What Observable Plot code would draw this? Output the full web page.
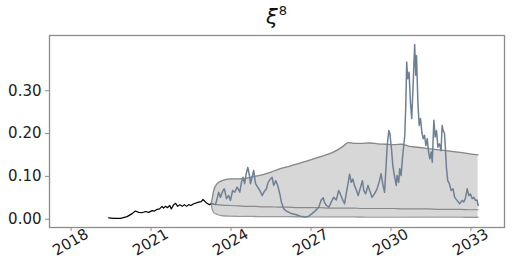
<!DOCTYPE html>
<html>
<head>
<meta charset="utf-8">
<script src="https://cdn.jsdelivr.net/npm/d3@7"></script>
<script src="https://cdn.jsdelivr.net/npm/@observablehq/plot@0.6"></script>
<style>
  body { margin: 0; background: white; }
  #wrap { width: 514px; }
  #title { box-sizing: border-box; width: 514px; height: 30px; padding-left: 49px; padding-right: 10px; padding-top: 5px;
           text-align: center; font-family: "DejaVu Sans", sans-serif; font-size: 21px; line-height: 25px; color: #111; }
  #title i { font-style: italic; }
  #title sup { font-size: 13px; font-style: normal; vertical-align: 0; position: relative; top: -9px; margin-left: 1px; }
</style>
</head>
<body>
<div id="wrap">
  <div id="title"><i>ξ</i><sup>8</sup></div>
  <div id="chart"></div>
</div>
<script>
// ---- data ----
const histYears = [2019.41, 2019.60, 2019.85, 2020.10, 2020.29, 2020.41, 2020.54, 2020.66, 2020.79, 2020.91,
  2021.04, 2021.13, 2021.23, 2021.32, 2021.41, 2021.47, 2021.54, 2021.62, 2021.70, 2021.76, 2021.85, 2021.92,
  2022.00, 2022.08, 2022.17, 2022.25, 2022.33, 2022.41, 2022.50, 2022.60, 2022.70, 2022.79, 2022.88, 2022.95,
  2023.01, 2023.08, 2023.13, 2023.19, 2023.26];
const histValues = [0.003, 0.002, 0.002, 0.006, 0.013, 0.019, 0.016, 0.015, 0.018, 0.016,
  0.020, 0.019, 0.023, 0.024, 0.030, 0.026, 0.030, 0.027, 0.032, 0.024, 0.034, 0.037,
  0.030, 0.034, 0.030, 0.034, 0.030, 0.034, 0.032, 0.036, 0.038, 0.040, 0.041, 0.046,
  0.042, 0.038, 0.036, 0.034, 0.036];

const pathYears = [2023.26, 2023.42, 2023.54, 2023.60, 2023.70, 2023.75, 2023.83, 2023.91, 2023.98, 2024.06,
  2024.14, 2024.23, 2024.33, 2024.39, 2024.45, 2024.51, 2024.57, 2024.63, 2024.69, 2024.73, 2024.79, 2024.85,
  2024.92, 2025.00, 2025.08, 2025.17, 2025.23, 2025.33, 2025.39, 2025.48, 2025.54, 2025.60, 2025.68, 2025.75,
  2025.83, 2025.89, 2025.98, 2026.08, 2026.23, 2026.42, 2026.60, 2026.79, 2026.92,
  2027.04, 2027.17, 2027.29, 2027.38, 2027.46, 2027.50, 2027.58, 2027.67, 2027.76, 2027.85, 2027.95, 2028.04,
  2028.10, 2028.17, 2028.26, 2028.32, 2028.39, 2028.45, 2028.51, 2028.57, 2028.63, 2028.71, 2028.77, 2028.86,
  2028.93, 2028.98, 2029.05, 2029.14, 2029.20, 2029.29, 2029.38, 2029.48, 2029.57, 2029.63, 2029.69, 2029.76,
  2029.79, 2029.86, 2029.92, 2029.96, 2030.02, 2030.07, 2030.13, 2030.20, 2030.23, 2030.29, 2030.33, 2030.38,
  2030.43, 2030.48, 2030.52, 2030.56, 2030.59, 2030.63, 2030.68, 2030.73, 2030.78, 2030.83, 2030.89, 2030.93,
  2030.96, 2031.01, 2031.06, 2031.11, 2031.16, 2031.21, 2031.26, 2031.31, 2031.36, 2031.41, 2031.46, 2031.51,
  2031.55, 2031.61, 2031.66, 2031.71, 2031.76, 2031.82, 2031.88, 2031.92, 2031.96, 2032.01, 2032.04, 2032.08,
  2032.13, 2032.19, 2032.26, 2032.33, 2032.39, 2032.48, 2032.58, 2032.67, 2032.73, 2032.79, 2032.86, 2032.92,
  2032.98, 2033.05, 2033.11, 2033.17, 2033.23, 2033.27];
const pathValues = [0.037, 0.034, 0.063, 0.051, 0.067, 0.071, 0.048, 0.055, 0.044, 0.067,
  0.063, 0.075, 0.063, 0.086, 0.098, 0.083, 0.106, 0.121, 0.102, 0.083, 0.098, 0.114,
  0.083, 0.075, 0.067, 0.055, 0.063, 0.071, 0.086, 0.094, 0.098, 0.079, 0.090, 0.079,
  0.059, 0.040, 0.024, 0.019, 0.014, 0.011, 0.007, 0.005, 0.007,
  0.013, 0.020, 0.028, 0.044, 0.050, 0.040, 0.032, 0.028, 0.040, 0.051, 0.045, 0.067,
  0.059, 0.048, 0.036, 0.059, 0.083, 0.105, 0.086, 0.094, 0.079, 0.067, 0.055, 0.075,
  0.090, 0.067, 0.059, 0.079, 0.067, 0.051, 0.059, 0.071, 0.090, 0.106, 0.083, 0.063,
  0.095, 0.172, 0.207, 0.200, 0.164, 0.125, 0.102, 0.079, 0.102, 0.086, 0.118, 0.102,
  0.141, 0.172, 0.196, 0.273, 0.367, 0.328, 0.343, 0.273, 0.235, 0.312, 0.408, 0.336,
  0.382, 0.273, 0.219, 0.235, 0.203, 0.188, 0.196, 0.172, 0.188, 0.157, 0.141, 0.157,
  0.133, 0.231, 0.192, 0.207, 0.168, 0.176, 0.160, 0.219, 0.207, 0.200, 0.168, 0.121,
  0.090, 0.083, 0.067, 0.071, 0.051, 0.044, 0.036, 0.044, 0.040, 0.048, 0.071, 0.055,
  0.059, 0.048, 0.051, 0.044, 0.045, 0.032];

const bandYears = [2023.26, 2023.29, 2023.35, 2023.48, 2023.67, 2023.98, 2024.3, 2024.6, 2024.9, 2025.2,
  2025.5, 2025.8, 2026.1, 2026.5, 2026.9, 2027.3, 2027.7, 2028.0, 2028.2, 2028.4, 2028.6, 2028.9, 2029.2,
  2029.5, 2029.8, 2030.1, 2030.4, 2030.7, 2031.0, 2031.4, 2031.8, 2032.2, 2032.6, 2033.0, 2033.27];
const bandUpper = [0.037, 0.046, 0.067, 0.083, 0.090, 0.094, 0.094, 0.096, 0.100, 0.104,
  0.110, 0.117, 0.122, 0.129, 0.137, 0.145, 0.153, 0.162, 0.170, 0.179, 0.177, 0.177, 0.178,
  0.176, 0.175, 0.174, 0.175, 0.170, 0.168, 0.165, 0.162, 0.159, 0.156, 0.152, 0.150];
const bandLower = [0.035, 0.024, 0.016, 0.011, 0.008, 0.007, 0.0068, 0.0065, 0.0063, 0.006,
  0.006, 0.006, 0.0058, 0.0057, 0.0056, 0.0055, 0.0054, 0.0053, 0.0053, 0.0052, 0.0052, 0.0051, 0.005,
  0.005, 0.005, 0.0049, 0.0049, 0.0048, 0.0048, 0.0047, 0.0047, 0.0046, 0.0046, 0.0045, 0.0045];
const bandMedian = [0.036, 0.036, 0.035, 0.034, 0.033, 0.032, 0.031, 0.030, 0.030, 0.029,
  0.029, 0.028, 0.028, 0.027, 0.027, 0.027, 0.026, 0.026, 0.026, 0.026, 0.026, 0.025, 0.025,
  0.025, 0.025, 0.025, 0.024, 0.024, 0.024, 0.024, 0.023, 0.023, 0.023, 0.022, 0.022];

const xTicks = [2018, 2021, 2024, 2027, 2030, 2033];
const xTickLabels = ["2018", "2021", "2024", "2027", "2030", "2033"];
const yTicks = [0.0, 0.1, 0.2, 0.3];
const yTickLabels = ["0.00", "0.10", "0.20", "0.30"];

// ---- tables built from the arrays ----
const hist = histYears.map((x, i) => ({x, y: histValues[i]}));
const path = pathYears.map((x, i) => ({x, y: pathValues[i]}));
const band = bandYears.map((x, i) => ({x, hi: bandUpper[i], lo: bandLower[i], med: bandMedian[i]}));
const xt = xTicks.map((x, i) => ({x, label: xTickLabels[i]}));
const yt = yTicks.map((y, i) => ({y, label: yTickLabels[i]}));

const chart = Plot.plot({
  width: 514,
  height: 244,
  marginLeft: 49,
  marginRight: 10,
  marginTop: 5,
  marginBottom: 47,
  x: {domain: [2017.19, 2034.26]},
  y: {domain: [-0.0194, 0.429]},
  style: {fontFamily: "DejaVu Sans, sans-serif", fontSize: "14px", color: "#222", background: "white"},
  marks: [
    Plot.areaY(band, {x: "x", y1: "lo", y2: "hi", fill: "#d7d7d7", curve: "monotone-x"}),
    Plot.lineY(band, {x: "x", y: "hi", stroke: "#888", strokeWidth: 1.3, curve: "monotone-x"}),
    Plot.lineY(band, {x: "x", y: "lo", stroke: "#999", strokeWidth: 1.3, curve: "monotone-x"}),
    Plot.lineY(band, {x: "x", y: "med", stroke: "#8a8a8a", strokeWidth: 1.2, curve: "monotone-x"}),
    Plot.lineY(hist, {x: "x", y: "y", stroke: "#000", strokeWidth: 1.2}),
    Plot.lineY(path, {x: "x", y: "y", stroke: "#6e8095", strokeWidth: 1.5}),
    Plot.frame({stroke: "#8c8c8c", strokeWidth: 1.3}),
    Plot.axisY({ticks: yTicks, tickFormat: () => "", tickSize: 4, label: null, stroke: "#8c8c8c"}),
    Plot.text(yt, {y: "y", text: "label", frameAnchor: "left", dx: -8, textAnchor: "end",
                   fontSize: 15, fill: "#222"}),
    Plot.axisX({ticks: xTicks, tickFormat: () => "", tickSize: 4, label: null, stroke: "#8c8c8c"}),
    Plot.text(xt, {x: "x", text: "label", frameAnchor: "bottom", dy: 19, dx: 2, rotate: -30, textAnchor: "middle",
                   fontSize: 15, fill: "#222"})
  ]
});
document.getElementById("chart").appendChild(chart);
</script>
</body>
</html>
